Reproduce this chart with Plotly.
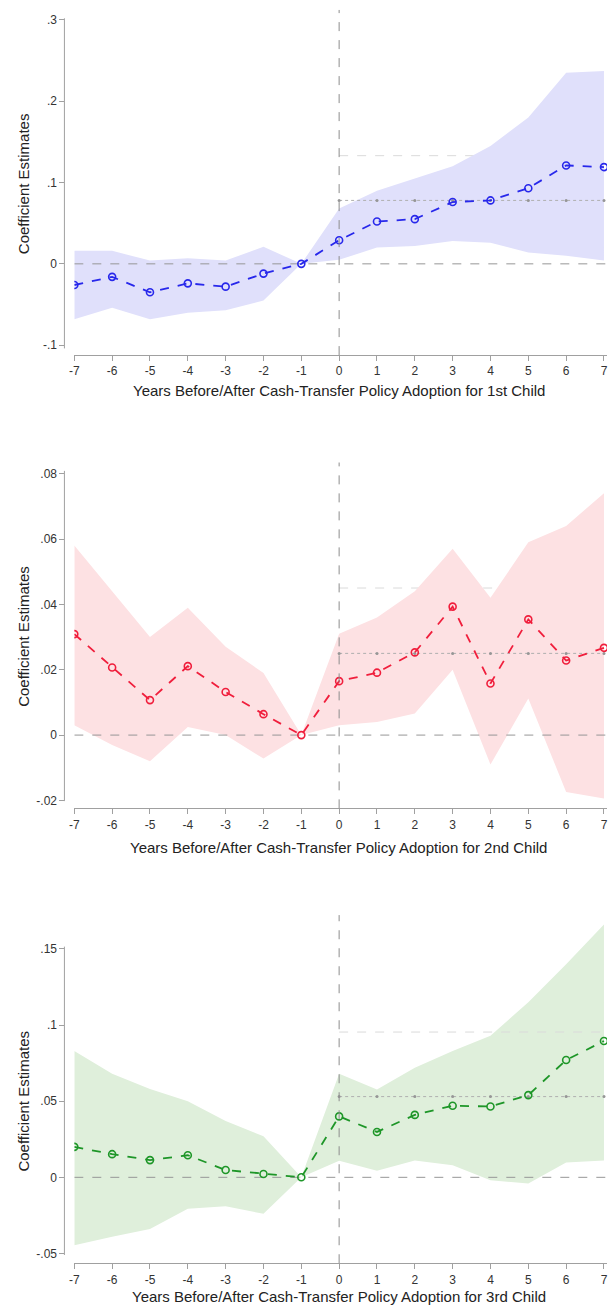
import plotly.graph_objects as go

years = [-7, -6, -5, -4, -3, -2, -1, 0, 1, 2, 3, 4, 5, 6, 7]
post_years = [0, 1, 2, 3, 4, 5, 6, 7]

# Panel 1: 1st child
coef1 = [-0.026, -0.016, -0.035, -0.024, -0.028, -0.012, 0.0, 0.029, 0.052, 0.055, 0.076, 0.078, 0.093, 0.121, 0.119]
upper1 = [0.016, 0.016, 0.004, 0.007, 0.004, 0.021, 0.0, 0.068, 0.090, 0.105, 0.120, 0.145, 0.180, 0.235, 0.237]
lower1 = [-0.068, -0.054, -0.068, -0.060, -0.057, -0.045, 0.0, 0.005, 0.020, 0.022, 0.028, 0.026, 0.014, 0.010, 0.004]
avg1 = 0.078
ref1 = 0.133

# Panel 2: 2nd child
coef2 = [0.0309, 0.0207, 0.0107, 0.0211, 0.0132, 0.0064, 0.0, 0.0165, 0.0191, 0.0253, 0.0393, 0.0158, 0.0354, 0.0228, 0.0267]
upper2 = [0.058, 0.044, 0.030, 0.039, 0.027, 0.019, 0.0, 0.031, 0.036, 0.044, 0.057, 0.042, 0.059, 0.064, 0.074]
lower2 = [0.003, -0.003, -0.008, 0.0025, 0.0, -0.0072, 0.0, 0.003, 0.004, 0.0066, 0.020, -0.009, 0.0112, -0.0174, -0.0194]
avg2 = 0.025
ref2 = 0.045

# Panel 3: 3rd child
coef3 = [0.020, 0.0152, 0.0113, 0.0145, 0.0048, 0.0022, 0.0, 0.040, 0.0298, 0.041, 0.047, 0.0465, 0.054, 0.077, 0.0895]
upper3 = [0.083, 0.068, 0.058, 0.050, 0.037, 0.027, 0.0, 0.068, 0.0576, 0.072, 0.083, 0.093, 0.115, 0.140, 0.166]
lower3 = [-0.0446, -0.039, -0.034, -0.0207, -0.019, -0.024, 0.0, 0.0108, 0.0043, 0.011, 0.008, -0.002, -0.004, 0.0098, 0.011]
avg3 = 0.053
ref3 = 0.0954

xtitles = [
    "Years Before/After Cash-Transfer Policy Adoption for 1st Child",
    "Years Before/After Cash-Transfer Policy Adoption for 2nd Child",
    "Years Before/After Cash-Transfer Policy Adoption for 3rd Child",
]
ytitle = "Coefficient Estimates"

ytickvals = [
    [-0.1, 0, 0.1, 0.2, 0.3],
    [-0.02, 0, 0.02, 0.04, 0.06, 0.08],
    [-0.05, 0, 0.05, 0.1, 0.15],
]
yticktext = [
    ["-.1", "0", ".1", ".2", ".3"],
    ["-.02", "0", ".02", ".04", ".06", ".08"],
    ["-.05", "0", ".05", ".1", ".15"],
]
xtickvals = years
xticktext = [str(v) for v in years]

W, H = 608, 1314


def py(p):
    return 1 - p / H


panels = [
    dict(coef=coef1, up=upper1, lo=lower1, avg=avg1, ref=ref1, ref_above=False,
         line="rgb(40,40,235)", band="rgb(224,224,251)",
         plot=(10, 350.3), rng=[-0.104, 0.3122], axline=(18.4, 350.3),
         xline=357, xtit=393),
    dict(coef=coef2, up=upper2, lo=lower2, avg=avg2, ref=ref2, ref_above=False,
         line="rgb(240,30,60)", band="rgb(253,225,227)",
         plot=(465, 805.4), rng=[-0.0202, 0.0834], axline=(473.4, 805.4),
         xline=812.7, xtit=852),
    dict(coef=coef3, up=upper3, lo=lower3, avg=avg3, ref=ref3, ref_above=True,
         line="rgb(30,150,40)", band="rgb(223,239,219)",
         plot=(920, 1261.7), rng=[-0.051, 0.1722], axline=(951.7, 1261.7),
         xline=1270, xtit=1303),
]

fig = go.Figure()
shapes = []
annotations = []
font = "Liberation Sans, Arial, sans-serif"
axcol = "rgb(160,160,160)"

for i, p in enumerate(panels):
    n = "" if i == 0 else str(i + 1)
    xa, ya = "x" + n, "y" + n
    ref_trace = go.Scatter(x=[post_years[0], post_years[-1]], y=[p["ref"], p["ref"]],
                           mode="lines", line=dict(color="rgb(218,218,218)", width=1, dash="dash"),
                           xaxis=xa, yaxis=ya, showlegend=False, hoverinfo="skip")
    if not p["ref_above"]:
        fig.add_trace(ref_trace)
    # band
    fig.add_trace(go.Scatter(x=years, y=p["lo"], mode="lines", line=dict(width=0, color=p["band"]),
                             xaxis=xa, yaxis=ya, showlegend=False, hoverinfo="skip"))
    fig.add_trace(go.Scatter(x=years, y=p["up"], mode="lines", line=dict(width=0, color=p["band"]),
                             fill="tonexty", fillcolor=p["band"],
                             xaxis=xa, yaxis=ya, showlegend=False, hoverinfo="skip"))
    if p["ref_above"]:
        fig.add_trace(ref_trace)
    # zero line
    fig.add_trace(go.Scatter(x=[-7, 7.08], y=[0, 0], mode="lines",
                             line=dict(color="rgb(150,150,150)", width=1, dash="dash"),
                             xaxis=xa, yaxis=ya, showlegend=False, hoverinfo="skip"))
    # average dotted line
    fig.add_trace(go.Scatter(x=post_years, y=[p["avg"]] * len(post_years), mode="lines+markers",
                             line=dict(color="rgb(175,175,175)", width=1, dash="dot"),
                             marker=dict(size=3, color="rgb(150,150,150)"),
                             xaxis=xa, yaxis=ya, showlegend=False, hoverinfo="skip"))
    # main series
    fig.add_trace(go.Scatter(x=years, y=p["coef"], mode="lines+markers",
                             line=dict(color=p["line"], width=1.8, dash="dash"),
                             marker=dict(symbol="circle-open", size=7, color=p["line"], line=dict(width=1.6)),
                             xaxis=xa, yaxis=ya, showlegend=False))
    # vertical dashed line at 0
    shapes.append(dict(type="line", xref=xa, yref="paper", x0=0, x1=0,
                       y0=py(p["xline"]), y1=py(p["plot"][0]), layer="above",
                       line=dict(color="rgb(140,140,140)", width=1, dash="dash")))
    # y axis line (only across the labelled range)
    shapes.append(dict(type="line", xref="paper", yref="paper", x0=60 / W, x1=60 / W,
                       y0=py(p["axline"][1]), y1=py(p["axline"][0]), layer="above",
                       line=dict(color=axcol, width=1)))
    tickcommon = dict(ticks="outside", ticklen=5, tickcolor=axcol,
                      showgrid=False, zeroline=False,
                      tickfont=dict(family=font, size=12, color="#333"))
    fig.update_layout(**{
        "xaxis" + n: dict(domain=[70 / W, 1], range=[-7, 7.08], anchor="free",
                          position=py(p["xline"]), tickvals=xtickvals, ticktext=xticktext,
                          showline=True, linecolor=axcol, linewidth=1,
                          ticklabeloverflow="allow", **tickcommon),
        "yaxis" + n: dict(domain=[py(p["plot"][1]), py(p["plot"][0])], range=p["rng"],
                          anchor="free", position=60 / W, tickvals=ytickvals[i],
                          ticktext=yticktext[i], showline=False, **tickcommon),
    })
    annotations.append(dict(text=xtitles[i], xref="paper", yref="paper", x=337 / W, y=py(p["xtit"]),
                            showarrow=False, xanchor="center", yanchor="middle",
                            font=dict(family=font, size=15, color="#222")))
    annotations.append(dict(text=ytitle, xref="paper", yref="paper", x=19 / W,
                            y=py((p["axline"][0] + p["axline"][1]) / 2), textangle=-90,
                            showarrow=False, xanchor="center", yanchor="middle",
                            font=dict(family=font, size=15, color="#222")))

fig.update_layout(width=W, height=H, margin=dict(l=0, r=0, t=0, b=0),
                  paper_bgcolor="white", plot_bgcolor="white",
                  shapes=shapes, annotations=annotations, showlegend=False)

fig.write_html("out.html")
